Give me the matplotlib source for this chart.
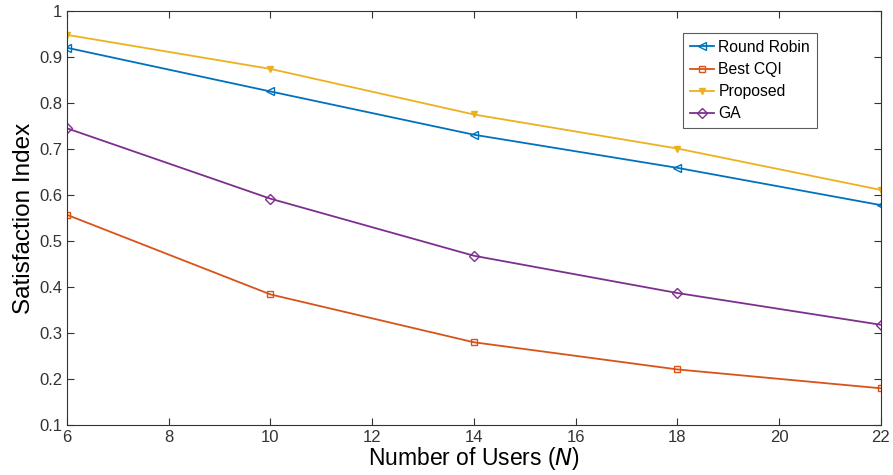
import matplotlib
matplotlib.use('Agg')
import matplotlib.pyplot as plt

plt.rcParams['font.family'] = ['Liberation Sans', 'DejaVu Sans']

users = [6, 10, 14, 18, 22]
round_robin = [0.920, 0.825, 0.731, 0.659, 0.578]
best_cqi = [0.557, 0.384, 0.280, 0.221, 0.180]
proposed = [0.948, 0.874, 0.775, 0.701, 0.611]
ga = [0.745, 0.592, 0.468, 0.387, 0.318]

fig = plt.figure(figsize=(8.93, 4.75), dpi=100)
ax = fig.add_axes([0.075, 0.105, 0.9115, 0.872])

ax.plot(users, round_robin, color='#0072BD', marker='<', mfc='none', ms=6, lw=1.3, label='Round Robin')
ax.plot(users, best_cqi, color='#D95319', marker='s', mfc='none', ms=5, lw=1.3, label='Best CQI')
ax.plot(users, proposed, color='#EDB120', marker='v', ms=5, lw=1.3, label='Proposed')
ax.plot(users, ga, color='#7E2F8E', marker='D', mfc='none', ms=5, lw=1.3, label='GA')

ax.set_xlim(6, 22)
ax.set_ylim(0.1, 1)
ax.set_xticks(range(6, 23, 2))
ax.set_yticks([0.1, 0.2, 0.3, 0.4, 0.5, 0.6, 0.7, 0.8, 0.9, 1])
ax.set_yticklabels(['0.1', '0.2', '0.3', '0.4', '0.5', '0.6', '0.7', '0.8', '0.9', '1'])
ax.tick_params(direction='in', top=True, right=True, labelsize=12, colors='#333333', length=5)
for s in ax.spines.values():
    s.set_color('#333333')
    s.set_linewidth(0.8)

ax.set_xlabel('Number of Users ($N$)', fontsize=16.5, labelpad=0)
ax.set_ylabel('Satisfaction Index', fontsize=17.5, labelpad=3)

leg = ax.legend(loc='upper left', bbox_to_anchor=(0.757, 0.947), borderaxespad=0,
                fontsize=11.3, fancybox=False, edgecolor='#333333', handlelength=1.5,
                handletextpad=0.3, borderpad=0.45, labelspacing=0.45)
leg.get_frame().set_linewidth(0.8)

fig.savefig('out.png', dpi=100)
